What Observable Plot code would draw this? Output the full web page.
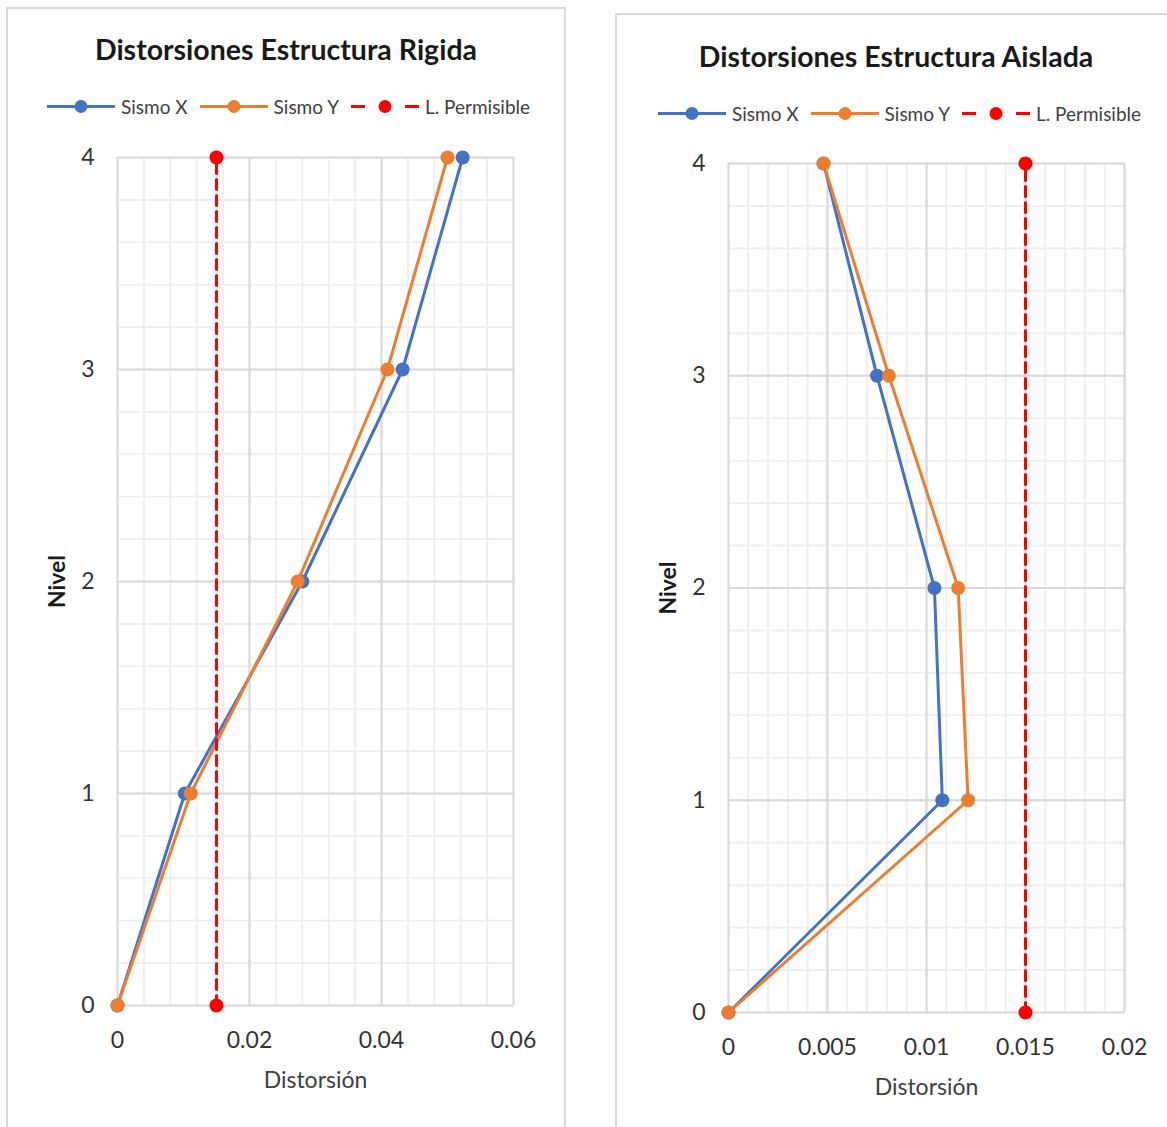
<!DOCTYPE html>
<html>
<head>
<meta charset="utf-8">
<script src="https://cdn.jsdelivr.net/npm/d3@7"></script>
<script src="https://cdn.jsdelivr.net/npm/@observablehq/plot@0.6"></script>
<style>
  html, body { margin: 0; padding: 0; background: #fff; }
  body { width: 1167px; height: 1127px; position: relative; overflow: hidden; font-family: Lato, "Open Sans", sans-serif; }
  .panel { position: absolute; border: 2px solid #d9d9d9; background: #fff; box-sizing: border-box; }
  .title { position: absolute; text-align: center; font-weight: bold; font-size: 28.5px; color: #1a1a1a; white-space: nowrap; transform: translate(-50%, -50%); }
  .legend { position: absolute; display: flex; align-items: center; font-size: 19px; color: #404040; white-space: nowrap; transform: translateY(-50%); }
  .legend .item { display: flex; align-items: center; margin-right: 12px; }
  .legend svg { margin-right: 6px; }
  .chart { position: absolute; width: 600px; }
  .chart svg { max-width: none !important; }
</style>
</head>
<body>
<div class="panel" style="left:6px;top:7px;width:560px;height:1140px;"></div>
<div class="panel" style="left:615px;top:13px;width:580px;height:1140px;"></div>
<div class="title" style="left:286px;top:49px;">Distorsiones Estructura Rigida</div>
<div class="title" style="left:896px;top:56px;">Distorsiones Estructura Aislada</div>
<div class="legend" id="legend1" style="left:47px;top:106px;"></div>
<div class="legend" id="legend2" style="left:658px;top:113px;"></div>
<div class="chart" id="chart1" style="left:7px;top:130px;"></div>
<div class="chart" id="chart2" style="left:617px;top:136px;"></div>
<script>
// ---- data ----
const niveles = [0, 1, 2, 3, 4];
const rigidaSismoX = [0, 0.0102, 0.0280, 0.0432, 0.0523];
const rigidaSismoY = [0, 0.0111, 0.0273, 0.0409, 0.0500];
const aisladaSismoX = [0, 0.0108, 0.0104, 0.0075, 0.0048];
const aisladaSismoY = [0, 0.0121, 0.0116, 0.0081, 0.0048];
const limiteNiveles = [0, 4];
const limitePermisible = [0.015, 0.015];
const seriesNames = ["Sismo X", "Sismo Y", "L. Permisible"];
const seriesColors = ["#4472C4", "#ED7D31", "#FF0000"];
const rigidaXTicks = [0, 0.02, 0.04, 0.06];
const aisladaXTicks = [0, 0.005, 0.01, 0.015, 0.02];
const nivelTicks = [0, 1, 2, 3, 4];

function rows(xs) { return niveles.map((n, i) => ({nivel: n, d: xs[i]})); }
const limRows = limiteNiveles.map((n, i) => ({nivel: n, d: limitePermisible[i]}));

function legend(id) {
  const el = document.getElementById(id);
  seriesNames.forEach((name, i) => {
    const item = document.createElement("div");
    item.className = "item";
    const c = seriesColors[i];
    let sw;
    if (i < 2) {
      sw = `<svg width="68" height="14"><line x1="0" y1="7" x2="68" y2="7" stroke="${c}" stroke-width="3"/><circle cx="34" cy="7" r="6.5" fill="${c}"/></svg>`;
    } else {
      sw = `<svg width="68" height="14"><line x1="0" y1="7" x2="14" y2="7" stroke="${c}" stroke-width="3"/><line x1="54" y1="7" x2="68" y2="7" stroke="${c}" stroke-width="3"/><circle cx="34" cy="7" r="6.5" fill="${c}"/></svg>`;
    }
    item.innerHTML = sw + `<span>${name}</span>`;
    el.appendChild(item);
  });
}

function chart(id, xTicks, minorStep, sx, sy, w, h, ml) {
  const xMax = xTicks[xTicks.length - 1];
  const minor = d3.range(0, Math.round(xMax / minorStep) + 1).map(k => k * minorStep);
  const minorY = d3.range(0, 21).map(k => k * 0.2);
  const fmt = d => String(+d.toFixed(4));
  const p = Plot.plot({
    width: w, height: h,
    marginLeft: ml, marginTop: 27, marginRight: 52, marginBottom: 100,
    x: {domain: [0, xMax]},
    y: {domain: [0, 4]},
    style: {fontFamily: "Lato, 'Open Sans', sans-serif", fontSize: "23px", color: "#333", background: "transparent", overflow: "visible"},
    marks: [
      Plot.gridX(minor, {stroke: "#efefef", strokeOpacity: 1, strokeWidth: 2}),
      Plot.gridY(minorY, {stroke: "#efefef", strokeOpacity: 1, strokeWidth: 2}),
      Plot.gridX(xTicks, {stroke: "#d9d9d9", strokeOpacity: 1, strokeWidth: 2}),
      Plot.gridY(nivelTicks, {stroke: "#d9d9d9", strokeOpacity: 1, strokeWidth: 2}),
      Plot.axisX(xTicks, {tickSize: 0, tickPadding: 26, tickFormat: fmt, label: null}),
      Plot.axisY(nivelTicks, {tickSize: 0, tickPadding: 23, tickFormat: d => String(d), label: null}),
      Plot.text(["Distorsión"], {frameAnchor: "bottom", dy: 75, lineAnchor: "middle", textAnchor: "middle", fontSize: 23, fill: "#404040"}),
      Plot.text(["Nivel"], {frameAnchor: "left", dx: -60, rotate: -90, textAnchor: "middle", lineAnchor: "middle", fontSize: 23, fontWeight: "bold", fill: "#1a1a1a"}),
      Plot.line(rows(sx), {x: "d", y: "nivel", stroke: seriesColors[0], strokeWidth: 3}),
      Plot.dot(rows(sx), {x: "d", y: "nivel", r: 7, fill: seriesColors[0]}),
      Plot.line(rows(sy), {x: "d", y: "nivel", stroke: seriesColors[1], strokeWidth: 3}),
      Plot.dot(rows(sy), {x: "d", y: "nivel", r: 7, fill: seriesColors[1]}),
      Plot.line(limRows, {x: "d", y: "nivel", stroke: seriesColors[2], strokeWidth: 3, strokeDasharray: "10,6"}),
      Plot.dot(limRows, {x: "d", y: "nivel", r: 7, fill: seriesColors[2]})
    ]
  });
  document.getElementById(id).appendChild(p);
}

legend("legend1");
legend("legend2");
chart("chart1", rigidaXTicks, 0.004, rigidaSismoX, rigidaSismoY, 558, 975, 110);
chart("chart2", aisladaXTicks, 0.001, aisladaSismoX, aisladaSismoY, 559, 976, 111);
</script>
</body>
</html>
